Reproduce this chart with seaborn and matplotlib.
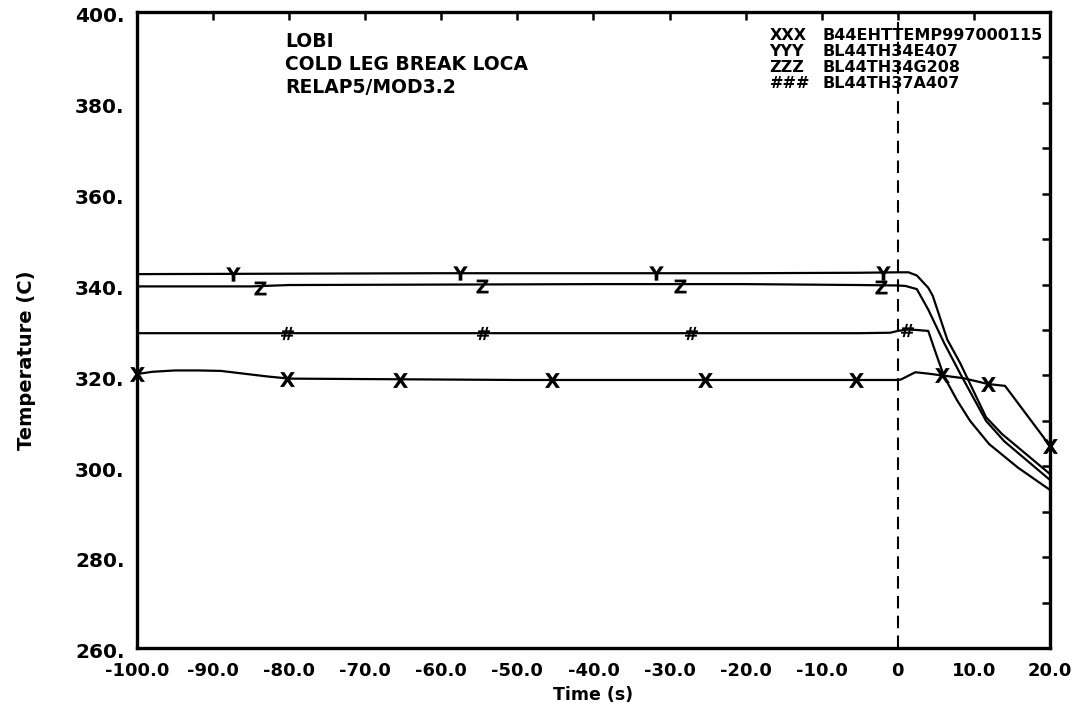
import pandas as pd
import matplotlib
matplotlib.use("Agg")
import matplotlib.pyplot as plt
from matplotlib.ticker import FixedLocator, FixedFormatter, MultipleLocator
from matplotlib.transforms import ScaledTranslation
import seaborn as sns

# --- values ---
# XXX  B44EHTTEMP997000115
x_time = [-100, -98, -95, -92, -89, -86, -83, -80, -70, -60, -50, -40, -30, -20,
          -10, -2, 0, 0.4, 2.3, 4.0, 5.8, 8.6, 11.9, 14.1, 20]
x_temp = [320.3, 320.8, 321.1, 321.1, 321.0, 320.4, 319.8, 319.3, 319.2, 319.1,
          319.0, 319.0, 319.0, 319.0, 319.0, 319.0, 319.0, 319.1, 320.7, 320.4,
          320.0, 319.4, 318.1, 317.7, 304.5]
x_mark_time = [-100, -80.3, -65.4, -45.4, -25.3, -5.5, 5.8, 11.9, 20]
x_mark_temp = [320.3, 319.3, 319.1, 319.0, 319.0, 319.0, 320.0, 318.1, 304.5]

# YYY  BL44TH34E407
y_time = [-100, -80, -60, -40, -20, -5, 0, 1.4, 2.5, 4.0, 4.6, 6.5, 8.2, 11.6, 13.7, 20]
y_temp = [342.3, 342.4, 342.5, 342.5, 342.5, 342.6, 342.7, 342.7, 342.0, 339.3,
          337.5, 327.9, 322.7, 310.8, 307.1, 298.3]
y_mark_time = [-87.4, -57.5, -31.8, -2.0]
y_mark_temp = [342.4, 342.5, 342.5, 342.6]

# ZZZ  BL44TH34G208
z_time = [-100, -85, -80, -60, -40, -20, -5, 0, 1.0, 2.5, 4.0, 6.1, 8.2, 11.6, 14.0, 20]
z_temp = [339.6, 339.6, 339.9, 340.0, 340.1, 340.1, 339.9, 339.8, 339.7, 339.0,
          334.5, 327.1, 320.4, 310.0, 305.5, 297.0]
z_mark_time = [-83.8, -54.6, -28.6, -2.2]
z_mark_temp = [339.3, 339.6, 339.7, 339.5]

# ###  BL44TH37A407
h_time = [-100, -80, -60, -40, -20, -5, -1, 0, 1.2, 2.5, 4.0, 5.0, 6.1, 7.8, 9.5, 12.0, 15.8, 20]
h_temp = [329.3, 329.3, 329.3, 329.3, 329.3, 329.3, 329.4, 329.8, 330.1, 330.0,
          329.8, 324.9, 319.7, 314.5, 310.0, 304.9, 299.7, 294.8]
h_mark_time = [-80.3, -54.5, -27.2, 1.2]
h_mark_temp = [329.3, 329.3, 329.3, 330.1]

series_names = ["B44EHTTEMP997000115", "BL44TH34E407", "BL44TH34G208", "BL44TH37A407"]
series_codes = ["XXX", "YYY", "ZZZ", "###"]

x_ticks = [-100, -90, -80, -70, -60, -50, -40, -30, -20, -10, 0, 10, 20]
x_tick_labels = ["-100.0", "-90.0", "-80.0", "-70.0", "-60.0", "-50.0", "-40.0",
                 "-30.0", "-20.0", "-10.0", "0", "10.0", "20.0"]
y_ticks = [260, 280, 300, 320, 340, 360, 380, 400]
y_tick_labels = ["260.", "280.", "300.", "320.", "340.", "360.", "380.", "400."]

title_lines = ["LOBI", "COLD LEG BREAK LOCA", "RELAP5/MOD3.2"]


def build_df():
    rows = []
    for name, t, v in zip(series_names,
                          [x_time, y_time, z_time, h_time],
                          [x_temp, y_temp, z_temp, h_temp]):
        rows.append(pd.DataFrame({"Time": t, "Temp": v, "Series": name}))
    return pd.concat(rows, ignore_index=True)


sns.set_theme(style="white", rc={"text.color": "black", "axes.labelcolor": "black",
                                 "xtick.color": "black", "ytick.color": "black"})
plt.rcParams["font.family"] = ["DejaVu Sans"]

df = build_df()

fig = plt.figure(figsize=(10.84, 7.1), dpi=100)
ax = fig.add_axes([0.1264, 0.0873, 0.8422, 0.8958])

# lines
for name in series_names:
    sns.lineplot(data=df[df["Series"] == name], x="Time", y="Temp", sort=False,
                 estimator=None, color="black", linewidth=1.6, ax=ax)

# letter markers
markers = [(x_mark_time, x_mark_temp, r"$\mathbf{X}$", 115),
           (y_mark_time, y_mark_temp, r"$\mathbf{Y}$", 110),
           (z_mark_time, z_mark_temp, r"$\mathbf{Z}$", 100),
           (h_mark_time, h_mark_temp, r"$\mathbf{\#}$", 90)]
for t, v, m, s in markers:
    sns.scatterplot(x=t, y=v, marker=m, s=s, color="black", linewidth=0,
                    ax=ax, clip_on=False, zorder=5)

# dashed line at break time
ax.axvline(0, color="black", linestyle=(0, (6, 3.5)), linewidth=1.5)

ax.set_xlim(-100, 20)
ax.set_ylim(260, 400)

ax.xaxis.set_major_locator(FixedLocator(x_ticks))
ax.xaxis.set_major_formatter(FixedFormatter(x_tick_labels))
ax.yaxis.set_major_locator(FixedLocator(y_ticks))
ax.yaxis.set_major_formatter(FixedFormatter(y_tick_labels))
ax.yaxis.set_minor_locator(MultipleLocator(10))

for side in ["left", "right", "top", "bottom"]:
    ax.spines[side].set_visible(True)
    ax.spines[side].set_linewidth(2.4)
    ax.spines[side].set_color("black")

ax.tick_params(which="both", direction="in", length=6, width=1.8, color="black",
               top=True, right=True)
ax.tick_params(axis="x", labelsize=13, pad=10)
ax.tick_params(axis="y", labelsize=14.5, pad=9)
shift = ScaledTranslation(0, -2 / 72, fig.dpi_scale_trans)
for lab in ax.get_xticklabels():
    lab.set_fontweight("bold")
for lab in ax.get_yticklabels():
    lab.set_fontweight("bold")
    lab.set_transform(lab.get_transform() + shift)

ax.set_xlabel("Time (s)", fontsize=12.5, fontweight="bold")
ax.xaxis.set_label_coords(0.5, -0.059)
ax.set_ylabel("Temperature (C)", fontsize=14, fontweight="bold")
ax.yaxis.set_label_coords(-0.111, 0.453)

# title block
for i, line in enumerate(title_lines):
    ax.text(0.162, 0.953 - i * 0.036, line, transform=ax.transAxes, fontsize=13.5,
            fontweight="bold", va="center", ha="left")

# legend block
for i, (code, name) in enumerate(zip(series_codes, series_names)):
    yy = 0.963 - i * 0.025
    ax.text(0.693, yy, code, transform=ax.transAxes, fontsize=11.5,
            fontweight="bold", va="center", ha="left")
    ax.text(0.751, yy, name, transform=ax.transAxes, fontsize=11.5,
            fontweight="bold", va="center", ha="left")

fig.savefig("out.png", dpi=100)
